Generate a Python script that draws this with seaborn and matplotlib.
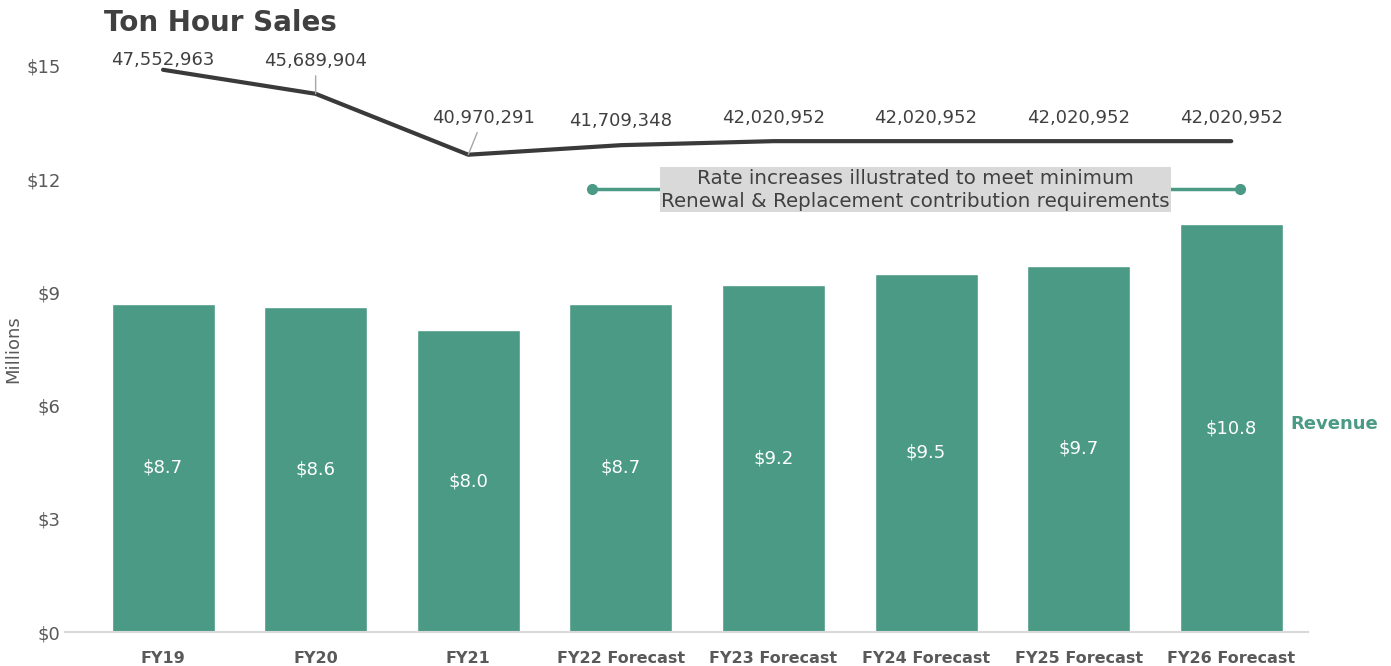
import numpy as np
import pandas as pd
import matplotlib
matplotlib.use("Agg")
import matplotlib.pyplot as plt
import seaborn as sns

# === Datos ===
categorias = ['FY19', 'FY20', 'FY21', 'FY22 Forecast', 'FY23 Forecast',
              'FY24 Forecast', 'FY25 Forecast', 'FY26 Forecast']
ingresos = [8.7, 8.6, 8.0, 8.7, 9.2, 9.5, 9.7, 10.8]  # millones
ton_hora = [47552963, 45689904, 40970291, 41709348, 42020952,
            42020952, 42020952, 42020952]
y_ticks = [0, 3, 6, 9, 12, 15]

verde = '#4b9a85'
gris = '#595959'

sns.set_theme(style='white')
plt.rcParams['font.family'] = ['DejaVu Sans']

df = pd.DataFrame({'cat': categorias, 'ingresos': ingresos, 'ton': ton_hora})

fig = plt.figure(figsize=(13.91, 6.66), dpi=100)
ax = fig.add_axes([0.047, 0.051, 0.893, 0.850])

# === Barras de ingresos ===
sns.barplot(data=df, x='cat', y='ingresos', color=verde, saturation=1,
            width=0.675, ax=ax)
ax.set_xlim(-0.64, 7.5)
ax.set_ylim(0, 15)
ax.set_yticks(y_ticks)
ax.set_yticklabels([f'${v}' for v in y_ticks], color=gris, fontsize=13)
ax.set_ylabel('Millions', color=gris, fontsize=13)
ax.yaxis.set_label_coords(-0.035, 0.5)
ax.set_xlabel('')
ax.tick_params(axis='both', length=0)
ax.tick_params(axis='x', pad=14)
for lbl in ax.get_xticklabels():
    lbl.set_fontweight('bold')
    lbl.set_color(gris)
    lbl.set_fontsize(11.5)
for s in ['top', 'right', 'left']:
    ax.spines[s].set_visible(False)
ax.spines['bottom'].set_color('#d9d9d9')
ax.spines['bottom'].set_linewidth(1.5)

for i, v in enumerate(ingresos):
    ax.text(i, v / 2, f'${v:.1f}', ha='center', va='center', color='white',
            fontsize=13)

ax.text(7.39, ingresos[-1] / 2 + 0.1, 'Revenue', ha='left', va='center',
        color=verde, fontsize=13, fontweight='bold', clip_on=False)

# === Nota de aumentos de tarifa ===
ax.plot([2.81, 7.06], [11.75, 11.75], color=verde, lw=2.5, marker='o', ms=7)
ax.text(4.93, 11.72, 'Rate increases illustrated to meet minimum\nRenewal & Replacement contribution requirements',
        ha='center', va='center', color='#404040', fontsize=14.3, linespacing=1.25,
        bbox=dict(facecolor='#d9d9d9', edgecolor='none', pad=1))

# === Línea de ventas ton-hora ===
ax2 = ax.twinx()
sns.lineplot(x=np.arange(len(ton_hora)), y=ton_hora, ax=ax2, color='#3a3a3a',
             lw=3, sort=False)
ax2.set_ylim(3.98e6, 47.85e6)
ax2.set_xlim(-0.64, 7.5)
ax2.axis('off')

offsets = [(0, 10), (0, 33), (15, 37), (0, 24), (0, 23), (0, 23), (0, 23), (0, 23)]
for i, (v, off) in enumerate(zip(ton_hora, offsets)):
    flecha = None
    if i in (1, 2):
        flecha = dict(arrowstyle='-', color='#a6a6a6', lw=1, shrinkA=2, shrinkB=0)
    ax2.annotate(f'{v:,}', xy=(i, v), xytext=off, textcoords='offset pixels',
                 ha='center', va='center', color='#404040', fontsize=13,
                 arrowprops=flecha, annotation_clip=False)

fig.text(0.075, 0.965, 'Ton Hour Sales', ha='left', va='center', color='#404040',
         fontsize=20, fontweight='bold')

fig.savefig('out.png', dpi=100)
